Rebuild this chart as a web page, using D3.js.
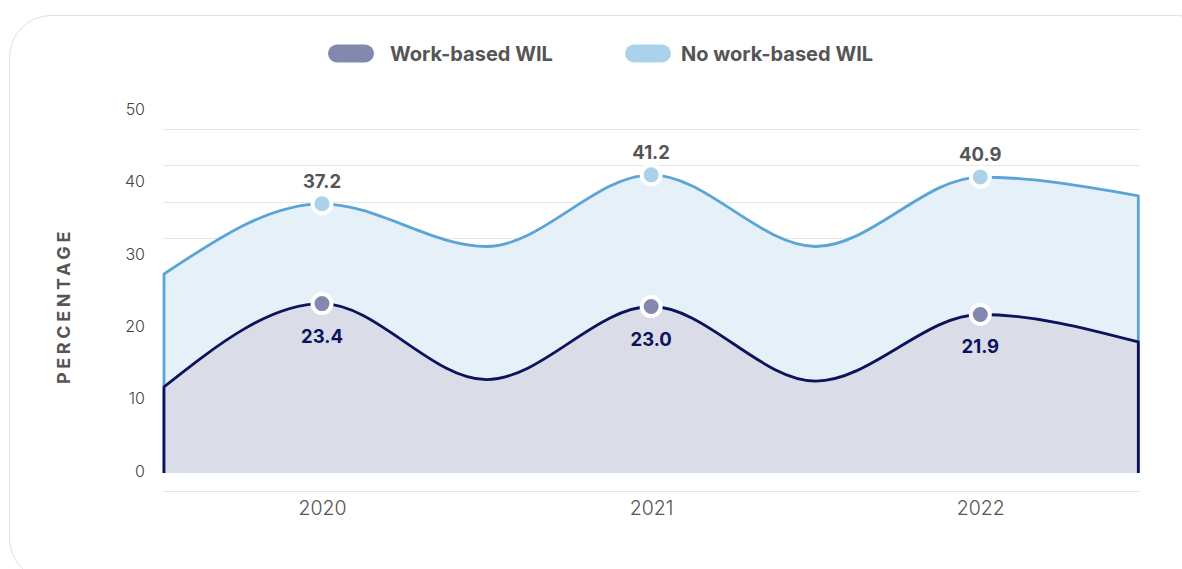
<!DOCTYPE html>
<html>
<head>
<meta charset="utf-8">
<script src="https://cdn.jsdelivr.net/npm/d3@7"></script>
<style>
  html, body { margin: 0; padding: 0; background: #ffffff; }
  svg { display: block; font-family: Inter, Roboto, "Noto Sans", sans-serif; }
</style>
</head>
<body>
<svg id="chart" width="1182" height="569"></svg>
<script>
// Share of graduates by year, with and without work-based WIL
const years = ["2020", "2021", "2022"];
const workBased = [23.4, 23.0, 21.9];
const noWorkBased = [37.2, 41.2, 40.9];

// Shape of each smoothed outline between the years and out to the plot edges
const workBasedTroughs = [12.9, 12.7];
const workBasedEdges = [11.9, 18.1];
const noWorkBasedTroughs = [31.3, 31.3];
const noWorkBasedEdges = [27.5, 38.3];
const outlineSteps = [-0.48, 0, 0.5, 1, 1.5, 2, 2.48];

const yTickValues = [0, 10, 20, 30, 40, 50];
const gridValues = [-2.5, 2.5, 7.5, 12.5, 17.5, 22.5, 27.5, 32.5, 37.5, 42.5, 47.5];

const legendItems = ["Work-based WIL", "No work-based WIL"];

const colors = {
  work:     { line: "#0c135c", area: "#dadce8", marker: "#8388ae", label: "#0c135c" },
  noWork:   { line: "#5ba4d6", area: "#e6f0f8", marker: "#abd1eb", label: "#555555" },
  text: "#555555",
  grid: "#e6e6e6"
};

function outline(edges, values, troughs) {
  return [edges[0], values[0], troughs[0], values[1], troughs[1], values[2], edges[1]]
    .map((v, i) => ({ step: outlineSteps[i], value: v }));
}

const svg = d3.select("#chart");

// card
svg.append("rect")
  .attr("x", 9.5).attr("y", 15.5)
  .attr("width", 1210).attr("height", 565)
  .attr("rx", 42).attr("ry", 42)
  .attr("fill", "#ffffff")
  .attr("stroke", "#dedede")
  .attr("stroke-width", 1);

const x = d3.scaleLinear().domain([-0.48, 2.48]).range([164, 1138.3]);
const y = d3.scaleLinear().domain([0, 50]).range([472.9, 111.2]);

// gridlines
svg.append("g")
  .selectAll("line")
  .data(gridValues)
  .join("line")
  .attr("x1", 163).attr("x2", 1140)
  .attr("y1", d => Math.round(y(d)) + 0.5)
  .attr("y2", d => Math.round(y(d)) + 0.5)
  .attr("stroke", colors.grid)
  .attr("stroke-width", 1);

// y axis labels
const yAxis = svg.append("g")
  .attr("transform", "translate(145,-2)")
  .call(d3.axisLeft(y).tickValues(yTickValues).tickSize(0).tickPadding(0));
yAxis.select(".domain").remove();
yAxis.selectAll("text")
  .attr("font-size", 16)
  .attr("font-family", "Inter, Roboto, sans-serif")
  .attr("font-weight", 300)
  .attr("fill", "#444444");

// x axis labels
const xAxis = svg.append("g")
  .attr("transform", "translate(0,491)")
  .call(d3.axisBottom(x).tickValues([0, 1, 2]).tickFormat(i => years[i]).tickSize(0).tickPadding(10));
xAxis.select(".domain").remove();
xAxis.selectAll("text")
  .attr("font-size", 19.5)
  .attr("font-family", "Inter, Roboto, sans-serif")
  .attr("font-weight", 300)
  .attr("fill", "#555555");

// y axis title
svg.append("text")
  .attr("transform", "translate(70,306) rotate(-90)")
  .attr("text-anchor", "middle")
  .attr("font-size", 18)
  .attr("font-weight", 700)
  .attr("letter-spacing", 3.6)
  .attr("fill", colors.text)
  .text("PERCENTAGE");

const area = d3.area()
  .x(d => x(d.step))
  .y0(y(0))
  .y1(d => y(d.value))
  .curve(d3.curveMonotoneX);

const line = d3.line()
  .x(d => x(d.step))
  .y(d => y(d.value))
  .curve(d3.curveMonotoneX);

function drawSeries(data, c) {
  const g = svg.append("g");
  g.append("path")
    .attr("d", area(data))
    .attr("fill", c.area);
  // outline including the vertical sides down to the baseline
  const first = data[0], last = data[data.length - 1];
  const path = "M" + x(first.step) + "," + y(0) + "L" + line(data).slice(1) + "L" + x(last.step) + "," + y(0);
  g.append("path")
    .attr("d", path)
    .attr("fill", "none")
    .attr("stroke", c.line)
    .attr("stroke-width", 2.8)
    .attr("stroke-linejoin", "round");
}

const noWorkOutline = outline(noWorkBasedEdges, noWorkBased, noWorkBasedTroughs);
const workOutline = outline(workBasedEdges, workBased, workBasedTroughs);
drawSeries(noWorkOutline, colors.noWork);
drawSeries(workOutline, colors.work);

// markers and value labels
function drawMarkers(values, c, labelOffset) {
  const g = svg.append("g");
  g.selectAll("circle")
    .data(values)
    .join("circle")
    .attr("cx", (d, i) => x(i))
    .attr("cy", d => y(d))
    .attr("r", 9.5)
    .attr("fill", c.marker)
    .attr("stroke", "#ffffff")
    .attr("stroke-width", 4);
  g.selectAll("text")
    .data(values)
    .join("text")
    .attr("x", (d, i) => x(i))
    .attr("y", d => y(d) + labelOffset)
    .attr("text-anchor", "middle")
    .attr("dominant-baseline", "central")
    .attr("font-size", 18.5)
    .attr("font-weight", 700)
    .attr("fill", c.label)
    .text(d => d.toFixed(1));
}
drawMarkers(noWorkBased, colors.noWork, -23);
drawMarkers(workBased, colors.work, 32);

// legend
const legendSwatches = [colors.work.marker, colors.noWork.marker];
const legendSwatchX = [328, 625];
const legendTextX = [390, 681];
const legend = svg.append("g");
legendItems.forEach((name, i) => {
  legend.append("rect")
    .attr("x", legendSwatchX[i]).attr("y", 44.5)
    .attr("width", 46).attr("height", 18)
    .attr("rx", 9).attr("ry", 9)
    .attr("fill", legendSwatches[i]);
  legend.append("text")
    .attr("x", legendTextX[i])
    .attr("y", 54)
    .attr("dominant-baseline", "central")
    .attr("font-size", 20)
    .attr("font-weight", 700)
    .attr("fill", colors.text)
    .text(name);
});
</script>
</body>
</html>
